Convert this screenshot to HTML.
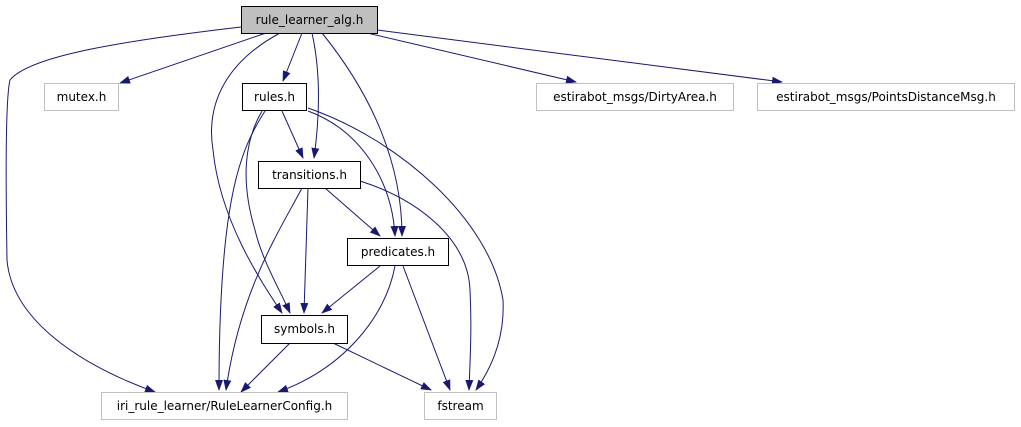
<!DOCTYPE html>
<html><head><meta charset="utf-8"><style>
html,body{margin:0;padding:0;background:#fff;width:1021px;height:427px;overflow:hidden}
svg text{font-family:"DejaVu Sans","Liberation Sans",sans-serif;font-size:12px;fill:#000}
</style></head><body>
<svg width="1021" height="427" viewBox="0 0 1021 427" xmlns="http://www.w3.org/2000/svg">
<defs>
<marker id="a" markerWidth="11" markerHeight="8" refX="10" refY="4" orient="auto" markerUnits="userSpaceOnUse">
<path d="M0,0 L11,4 L0,8 z" fill="#191970"/>
</marker>
</defs>
<g fill="none" stroke="#191970" stroke-width="1" marker-end="url(#a)">
<path d="M241,27 C130,40 30,55 10,80 C5,100 6,200 7,260 C12,320 80,365 155,392"/>
<path d="M266,33 L120,83"/>
<path d="M280,33 C230,60 205,100 213,150 C220,220 260,280 282,313"/>
<path d="M302,33 L283,81"/>
<path d="M312,33 C318,60 322,100 314,158"/>
<path d="M322,33 C360,80 402,150 402,236"/>
<path d="M367,33 L576,82"/>
<path d="M377,30 L782,82"/>
<path d="M282,111 L303,158"/>
<path d="M265,111 C240,150 219,200 219,390"/>
<path d="M262,111 C245,140 240,180 255,230 C262,260 280,290 290,313"/>
<path d="M308,111 C360,130 392,180 395,236"/>
<path d="M308,108 C400,140 490,220 503,300 C505,340 490,370 476,390"/>
<path d="M302,188 C280,230 240,290 226,390"/>
<path d="M308,188 L304,313"/>
<path d="M325,188 L380,236"/>
<path d="M360,181 C420,200 468,240 470,290 C472,330 470,360 469,390"/>
<path d="M380,266 L322,313"/>
<path d="M395,266 C385,320 340,370 278,392"/>
<path d="M403,266 L450,390"/>
<path d="M290,343 L241,392"/>
<path d="M333,343 L431,390"/>
</g>
<g stroke-width="1">
<rect x="241.5" y="6.5" width="136" height="27" fill="#bfbfbf" stroke="#000"/>
<rect x="44.5" y="83.5" width="74" height="27" fill="#fff" stroke="#bfbfbf"/>
<rect x="242.5" y="83.5" width="64" height="27" fill="#fff" stroke="#000"/>
<rect x="536.5" y="83.5" width="197" height="27" fill="#fff" stroke="#bfbfbf"/>
<rect x="757.5" y="83.5" width="257" height="27" fill="#fff" stroke="#bfbfbf"/>
<rect x="258.5" y="161.5" width="102" height="27" fill="#fff" stroke="#000"/>
<rect x="347.5" y="238.5" width="101" height="27" fill="#fff" stroke="#000"/>
<rect x="261.5" y="315.5" width="86" height="28" fill="#fff" stroke="#000"/>
<rect x="101.5" y="392.5" width="246" height="27" fill="#fff" stroke="#bfbfbf"/>
<rect x="424.5" y="392.5" width="72" height="27" fill="#fff" stroke="#bfbfbf"/>
</g>
<g text-anchor="middle">
<text x="309.5" y="24">rule_learner_alg.h</text>
<text x="81.5" y="101">mutex.h</text>
<text x="274.5" y="101">rules.h</text>
<text x="635" y="101">estirabot_msgs/DirtyArea.h</text>
<text x="886" y="101">estirabot_msgs/PointsDistanceMsg.h</text>
<text x="309.5" y="179">transitions.h</text>
<text x="398" y="256">predicates.h</text>
<text x="304.5" y="333">symbols.h</text>
<text x="224.5" y="410">iri_rule_learner/RuleLearnerConfig.h</text>
<text x="460.5" y="410">fstream</text>
</g>
</svg>
</body></html>
